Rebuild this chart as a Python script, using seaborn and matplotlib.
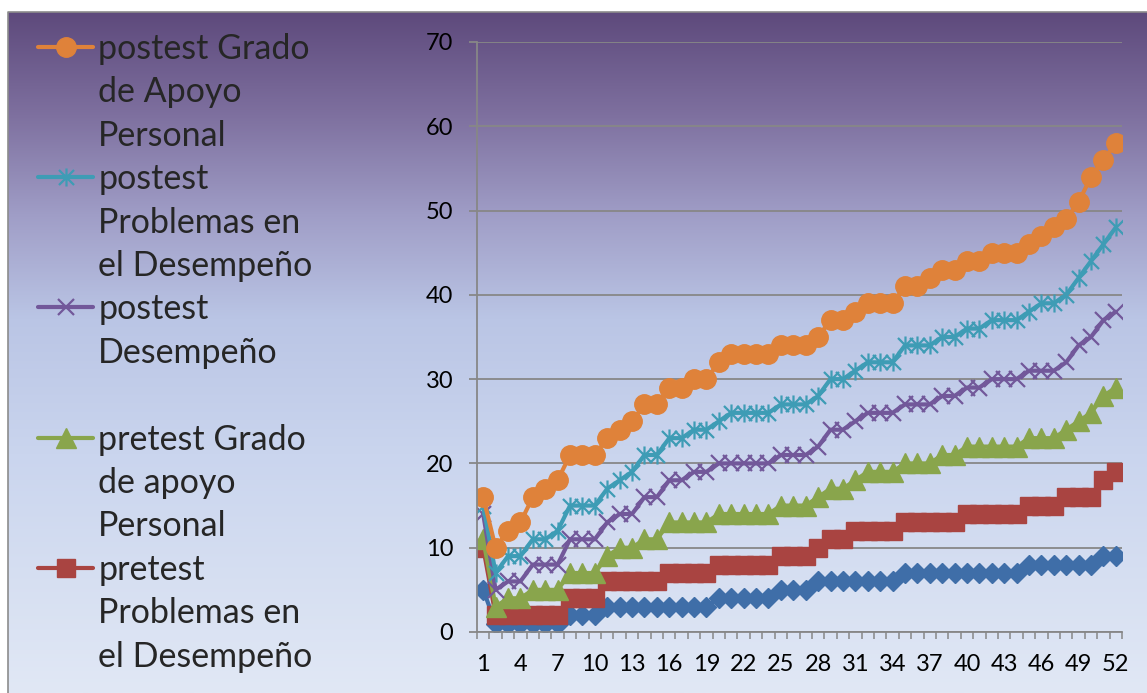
import numpy as np
import pandas as pd
import matplotlib
matplotlib.use("Agg")
import matplotlib.pyplot as plt
from matplotlib.colors import LinearSegmentedColormap
from matplotlib.lines import Line2D
from matplotlib.path import Path
import seaborn as sns

sns.set_theme(style="white")
plt.rcParams['font.family'] = ['Lato', 'DejaVu Sans']

# valores por caso (1..52)
casos = list(range(1, 53))
post_apoyo = [16, 10, 12, 13, 16, 17, 18, 21, 21, 21, 23, 24, 25, 27, 27, 29, 29, 30, 30, 32,
              33, 33, 33, 33, 34, 34, 34, 35, 37, 37, 38, 39, 39, 39, 41, 41, 42, 43, 43, 44,
              44, 45, 45, 45, 46, 47, 48, 49, 51, 54, 56, 58]
post_problemas = [15, 7, 9, 9, 11, 11, 12, 15, 15, 15, 17, 18, 19, 21, 21, 23, 23, 24, 24, 25,
                  26, 26, 26, 26, 27, 27, 27, 28, 30, 30, 31, 32, 32, 32, 34, 34, 34, 35, 35, 36,
                  36, 37, 37, 37, 38, 39, 39, 40, 42, 44, 46, 48]
post_desemp = [14, 5, 6, 6, 8, 8, 8, 11, 11, 11, 13, 14, 14, 16, 16, 18, 18, 19, 19, 20,
               20, 20, 20, 20, 21, 21, 21, 22, 24, 24, 25, 26, 26, 26, 27, 27, 27, 28, 28, 29,
               29, 30, 30, 30, 31, 31, 31, 32, 34, 35, 37, 38]
pre_apoyo = [11, 3, 4, 4, 5, 5, 5, 7, 7, 7, 9, 10, 10, 11, 11, 13, 13, 13, 13, 14,
             14, 14, 14, 14, 15, 15, 15, 16, 17, 17, 18, 19, 19, 19, 20, 20, 20, 21, 21, 22,
             22, 22, 22, 22, 23, 23, 23, 24, 25, 26, 28, 29]
pre_problemas = [10, 2, 2, 2, 2, 2, 2, 4, 4, 4, 6, 6, 6, 6, 6, 7, 7, 7, 7, 8,
                 8, 8, 8, 8, 9, 9, 9, 10, 11, 11, 12, 12, 12, 12, 13, 13, 13, 13, 13, 14,
                 14, 14, 14, 14, 15, 15, 15, 16, 16, 16, 18, 19]
pre_desemp = [5, 1, 1, 1, 1, 1, 1, 2, 2, 2, 3, 3, 3, 3, 3, 3, 3, 3, 3, 4,
              4, 4, 4, 4, 5, 5, 5, 6, 6, 6, 6, 6, 6, 6, 7, 7, 7, 7, 7, 7,
              7, 7, 7, 7, 8, 8, 8, 8, 8, 8, 9, 9]

x_ticks = list(range(1, 53, 3))
y_ticks = list(range(0, 71, 10))

series = {
    "pretest Desempeño": pre_desemp,
    "pretest Problemas en el Desempeño": pre_problemas,
    "pretest Grado de apoyo Personal": pre_apoyo,
    "postest Desempeño": post_desemp,
    "postest Problemas en el Desempeño": post_problemas,
    "postest Grado de Apoyo Personal": post_apoyo,
}
df = pd.concat([pd.DataFrame({"caso": casos, "valor": v, "serie": k}) for k, v in series.items()])

# asterisco tipo Excel: X con barra vertical
asterisco = Path([(-1, -1), (1, 1), (-1, 1), (1, -1), (0, -1.2), (0, 1.2)],
                 [Path.MOVETO, Path.LINETO, Path.MOVETO, Path.LINETO, Path.MOVETO, Path.LINETO])

estilos = {
    "pretest Desempeño": dict(color="#3F6EA8", marker="D", ms=10),
    "pretest Problemas en el Desempeño": dict(color="#A94441", marker="s", ms=13),
    "pretest Grado de apoyo Personal": dict(color="#89A54C", marker="^", ms=14),
    "postest Desempeño": dict(color="#72589A", marker="x", ms=11, mew=1.6),
    "postest Problemas en el Desempeño": dict(color="#3E9CB5", marker=asterisco, ms=13, mew=1.6),
    "postest Grado de Apoyo Personal": dict(color="#DF823A", marker="o", ms=14),
}

fig = plt.figure(figsize=(11.47, 6.93), dpi=100)

# fondo degradado del area del grafico
bg = fig.add_axes([0, 0, 1, 1], zorder=-1)
grad = LinearSegmentedColormap.from_list(
    "fondo", [(0, "#5E4A7C"), (0.15, "#7E709F"), (0.3, "#A09EC7"), (0.45, "#BAC5E5"),
              (0.65, "#CAD5EE"), (1, "#E1E8F5")])
bg.imshow(np.linspace(0, 1, 256).reshape(-1, 1), cmap=grad, aspect="auto",
          extent=[8, 1147, 0, 681], origin="upper")
bg.plot([8, 8, 1147], [0, 681, 681], color="#8C8C8C", lw=1.2)
bg.set_xlim(0, 1147)
bg.set_ylim(0, 693)
bg.axis("off")

ax = fig.add_axes([477 / 1147, 61 / 693, 645 / 1147, 590 / 693])
ax.patch.set_alpha(0)

lineas = {}
for nombre in series:
    st = estilos[nombre]
    sns.lineplot(data=df[df["serie"] == nombre], x="caso", y="valor", ax=ax,
                 color=st["color"], marker=st["marker"], markersize=st["ms"],
                 markeredgecolor=st["color"], markerfacecolor=st["color"],
                 markeredgewidth=st.get("mew", 1), linewidth=3, legend=False)
    lineas[nombre] = ax.lines[-1]

ax.set_xlim(0.5, 52.5)
ax.set_ylim(0, 70)
ax.set_xticks(x_ticks)
ax.set_xticks(np.arange(0.5, 53, 1), minor=True)
ax.set_yticks(y_ticks)
ax.set_xlabel("")
ax.set_ylabel("")
ax.yaxis.grid(True, color="#878787", lw=1.3)
ax.set_axisbelow(True)
for s in ["top", "right"]:
    ax.spines[s].set_visible(False)
for s in ["left", "bottom"]:
    ax.spines[s].set_color("#878787")
    ax.spines[s].set_linewidth(1.3)
ax.tick_params(axis="x", which="major", length=0, pad=16, labelsize=17, labelcolor="black")
ax.tick_params(axis="x", which="minor", length=5, width=1.1, color="#878787", direction="out", bottom=True)
ax.tick_params(axis="y", length=6, width=1.3, color="#878787", direction="out", left=True,
               pad=11, labelsize=17, labelcolor="black")

# leyenda: una fila por renglon del texto, como en Excel
vacio = Line2D([], [], linestyle="none")
filas = [
    (lineas["postest Grado de Apoyo Personal"], "postest Grado"),
    (vacio, "de Apoyo"), (vacio, "Personal"),
    (lineas["postest Problemas en el Desempeño"], "postest"),
    (vacio, "Problemas en"), (vacio, "el Desempeño"),
    (lineas["postest Desempeño"], "postest"),
    (vacio, "Desempeño"), (vacio, " "),
    (lineas["pretest Grado de apoyo Personal"], "pretest Grado"),
    (vacio, "de apoyo"), (vacio, "Personal"),
    (lineas["pretest Problemas en el Desempeño"], "pretest"),
    (vacio, "Problemas en"), (vacio, "el Desempeño"),
]
fig.legend([h for h, _ in filas], [t for _, t in filas], loc="upper left",
           bbox_to_anchor=(38 / 1147, 1 - 33 / 693), frameon=False, fontsize=24.5,
           handlelength=1.62, handletextpad=0.15, labelspacing=0.335, borderpad=0,
           borderaxespad=0, markerscale=1.0)

fig.savefig("out.png", dpi=100)
